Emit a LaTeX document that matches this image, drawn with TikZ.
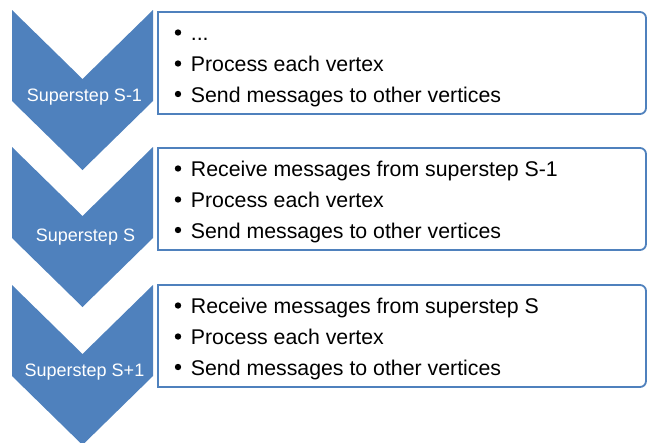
\documentclass[tikz,border=0pt]{standalone}
\usepackage{fontspec}
\setmainfont{Liberation Sans}
\definecolor{accent}{HTML}{4F81BD}
\begin{document}
\begin{tikzpicture}[x=1pt,y=-1pt,
  chev/.style={fill=accent,draw=none},
  listbox/.style={draw=accent,line width=1.8pt,fill=white},
  chevlabel/.style={text=white,font=\fontsize{18}{18}\selectfont,anchor=base,inner sep=0pt},
  item/.style={anchor=base west,inner sep=0pt,font=\fontsize{21.3}{21.3}\selectfont}]
\useasboundingbox (0,0) rectangle (647,442);
% chevrons
\foreach \t/\n in {10/c1,147/c2,285/c3}{
  \fill[chev] (12,\t) -- (82.5,\t+69) -- (153,\t) -- (153,\t+91) -- (82.5,\t+160) -- (12,\t+91) -- cycle;
}
\node[chevlabel] (l1) at (84.5,101.7) {Superstep S-1};
\node[chevlabel] (l2) at (85.5,241.7) {Superstep S};
\node[chevlabel] (l3) at (84.5,376.7) {Superstep S+1};
% boxes
\foreach \t in {12,148,285}{
  \draw[listbox] (158,\t+102) -- (158,\t) -- (400,\t)
     [rounded corners=6pt] -- (646,\t) -- (646,\t+102) -- (400,\t+102)
     [sharp corners] -- cycle;
}
% items
\foreach \t/\a/\b/\c in {12/{...}/{Process each vertex}/{Send messages to other vertices},
  148/{Receive messages from superstep S-1}/{Process each vertex}/{Send messages to other vertices},
  285/{Receive messages from superstep S}/{Process each vertex}/{Send messages to other vertices}}{
  \node[item] at (190.7,\t+28) {\a};
  \node[item] at (190.7,\t+59.5) {\b};
  \node[item] at (190.7,\t+90) {\c};
  \fill (178,\t+20.5) circle (3.2);
  \fill (178,\t+51.5) circle (3.2);
  \fill (178,\t+82) circle (3.2);
}
\end{tikzpicture}
\end{document}
